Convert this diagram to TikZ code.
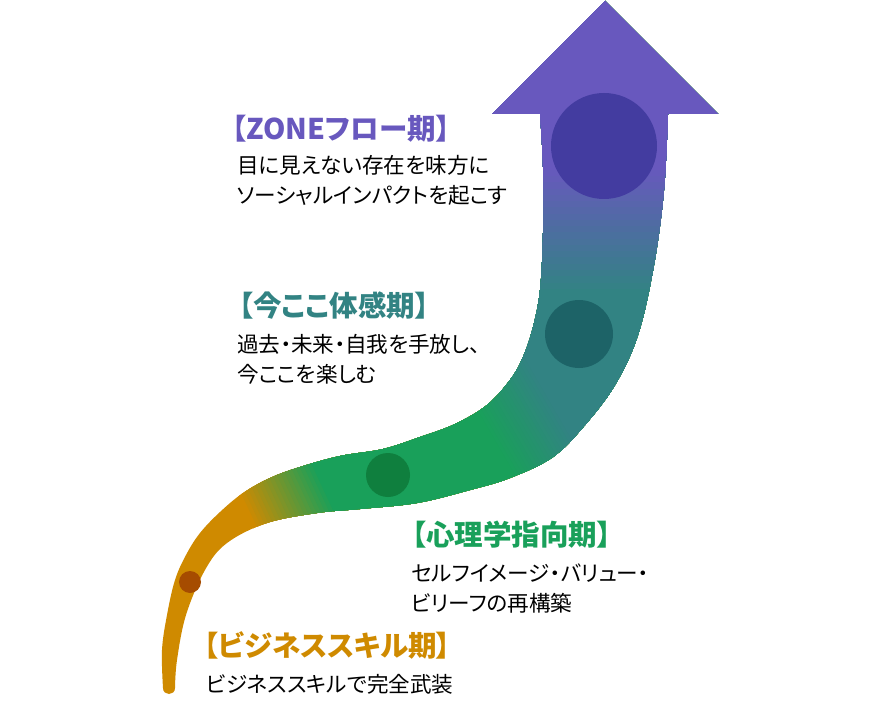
\documentclass[tikz,border=0pt]{standalone}
\usepackage{fontspec}
\usepackage{tikz}
\newfontfamily\jp[RawFeature=+palt]{Noto Sans CJK JP}

\definecolor{orangeC}{HTML}{CF8A00}
\definecolor{orangeD}{HTML}{A64C00}
\definecolor{greenC}{HTML}{19A05A}
\definecolor{greenD}{HTML}{0F7F3E}
\definecolor{tealC}{HTML}{328383}
\definecolor{tealD}{HTML}{1D6367}
\definecolor{purpleC}{HTML}{6858BE}
\definecolor{purpleD}{HTML}{433CA0}

\begin{document}
\begin{tikzpicture}[x=1pt,y=1pt,yscale=-1,xscale=1,
  dot/.style={circle,inner sep=0pt,draw=none},
  phase/.style={anchor=base west,inner sep=0pt,font=\jp\bfseries\fontsize{28.5}{30}\selectfont},
  note/.style={anchor=base west,inner sep=0pt,align=left,font=\jp\fontsize{21.6}{30}\selectfont}]
\useasboundingbox (0,0) rectangle (880,719);

% Ribbon arrow
\begin{scope}
\clip (605,1) -- (718,114) -- (668,114)
  -- plot[smooth,tension=0.6] coordinates {(668,114) (664,190) (654,265) (638,335) (615,385) (585,425) (553,457) (510,478) (470,490) (417,503) (360,509) (317,513) (267,523) (227,543) (205,570) (186,615) (177,660) (175,688)}
  .. controls (175,696) and (163,696) .. (163,688)
  -- plot[smooth,tension=0.6] coordinates {(163,688) (162,650) (167,615) (175,580) (186,555) (200,533) (220,512) (243,493) (270,478) (300,467) (340,456) (383,449) (420,437) (455,424) (487,405) (510,380) (523,357) (533,327) (540,290) (543,233) (543,167) (540,114)}
  -- (492,114) -- cycle;
\fill[orangeC] (0,0) rectangle (880,719);
% orange to green
\begin{scope}[shift={(285,490)},rotate=-25]
\foreach \i in {0,...,20}{
  \pgfmathtruncatemacro\p{100*\i/20}
  \fill[greenC!\p!orangeC] (-45+4*\i,-500) rectangle (1200,500);
}
\end{scope}
% green to teal
\begin{scope}[shift={(520,430)},rotate=-30]
\foreach \i in {0,...,20}{
  \pgfmathtruncatemacro\p{100*\i/20}
  \fill[tealC!\p!greenC] (-30+3.5*\i,-500) rectangle (1200,500);
}
\end{scope}
% teal to purple
\foreach \i in {0,...,20}{
  \pgfmathtruncatemacro\p{100*\i/20}
  \fill[purpleC!\p!tealC] (480,-10) rectangle (740,295-6.25*\i);
}
\end{scope}

% Dots
\node[dot,minimum size=106pt,fill=purpleD] (zone) at (604,146) {};
\node[dot,minimum size=68pt,fill=tealD] (now) at (579,334) {};
\node[dot,minimum size=44pt,fill=greenD] (psy) at (388,475) {};
\node[dot,minimum size=22pt,fill=orangeD] (biz) at (190,582) {};

% Text Node
\node[phase,text=purpleC] (zoneT) at (232,140) {【ZONEフロー期】};
\node[note] (zoneN) at (237,204) {目に見えない存在を味方に\\ソーシャルインパクトを起こす};
% Text Node
\node[phase,text=tealC] (nowT) at (239,316) {【今ここ体感期】};
\node[note] (nowN) at (237,382) {過去・未来・自我を手放し、\\今ここを楽しむ};
% Text Node
\node[phase,text=greenC] (psyT) at (412,545) {【心理学指向期】};
\node[note] (psyN) at (411,611) {セルフイメージ・バリュー・\\ビリーフの再構築};
% Text Node
\node[phase,text=orangeC] (bizT) at (204,656) {【ビジネススキル期】};
\node[note] (bizN) at (206,692) {ビジネススキルで完全武装};

\end{tikzpicture}
\end{document}
